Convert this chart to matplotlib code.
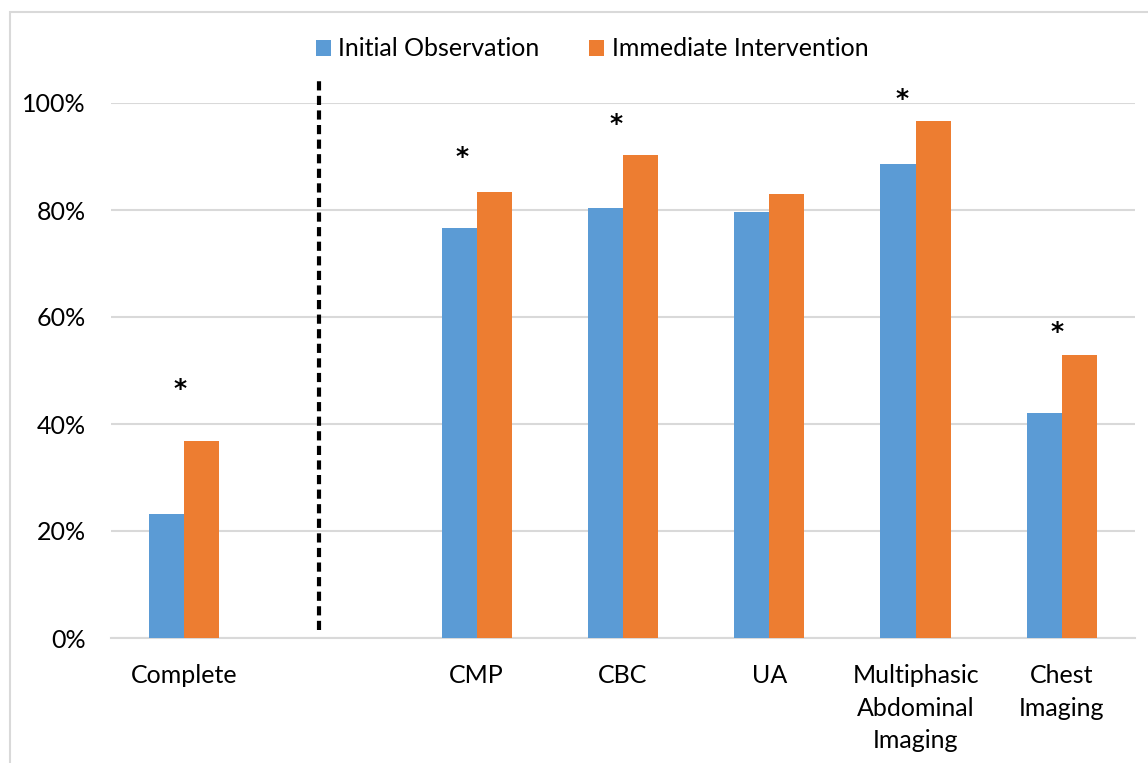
import matplotlib.pyplot as plt
from matplotlib.patches import Rectangle
from matplotlib.ticker import PercentFormatter

plt.rcParams['font.family'] = ['Lato', 'DejaVu Sans']

# data
categories = ['Complete', '', 'CMP', 'CBC', 'UA', 'Multiphasic\nAbdominal\nImaging', 'Chest\nImaging']
initial_obs = [0.232, None, 0.766, 0.804, 0.796, 0.886, 0.421]
immediate_int = [0.368, None, 0.834, 0.903, 0.830, 0.966, 0.529]
significant = [True, False, True, True, False, True, True]

# asterisk placement (x offset from group centre, height above orange bar)
star_dx = [-0.03, 0, -0.10, -0.05, 0, -0.09, -0.03]
star_dy = [0.097, 0, 0.065, 0.058, 0, 0.041, 0.043]

BLUE = '#5B9BD5'
ORANGE = '#ED7D31'
W = 0.24

fig = plt.figure(figsize=(11.48, 7.63), dpi=100)
W_PX, H_PX = 1148, 763
ax = fig.add_axes([111 / W_PX, 1 - 638 / H_PX, (1135 - 111) / W_PX, (638 - 103) / H_PX])

# outer chart frame
fig.patches.append(Rectangle((10 / W_PX, -0.05), 1.1, 1 - 12 / H_PX + 0.05,
                             transform=fig.transFigure, fill=False,
                             edgecolor='#D9D9D9', linewidth=1.5))

xs = [i for i, v in enumerate(initial_obs) if v is not None]
ax.bar([x - W / 2 for x in xs], [initial_obs[x] for x in xs], W, color=BLUE,
       label='Initial Observation', zorder=3)
ax.bar([x + W / 2 for x in xs], [immediate_int[x] for x in xs], W, color=ORANGE,
       label='Immediate Intervention', zorder=3)

for i, sig in enumerate(significant):
    if sig:
        ax.text(i + star_dx[i], immediate_int[i] + star_dy[i], '*', ha='center',
                va='center', fontsize=18, color='black', family='DejaVu Sans',
                fontweight='bold')

# separator between overall and per-test results
ax.plot([0.92, 0.92], [0.015, 1.047], color='black', linestyle=(0, (2.2, 1.3)),
        linewidth=3, clip_on=False, zorder=4)

ax.set_xlim(-0.5, 6.5)
ax.set_ylim(0, 1)
ax.set_yticks([0, 0.2, 0.4, 0.6, 0.8, 1.0])
ax.yaxis.set_major_formatter(PercentFormatter(1.0, decimals=0))
ax.set_xticks(range(len(categories)))
ax.set_xticklabels(categories, linespacing=1.48, va='top')
ax.tick_params(axis='both', length=0, labelsize=18, colors='black')
ax.tick_params(axis='x', pad=19)
ax.tick_params(axis='y', pad=18)
ax.grid(axis='y', color='#D9D9D9', linewidth=1.5, zorder=0)
for s in ['top', 'right', 'left']:
    ax.spines[s].set_visible(False)
ax.spines['bottom'].set_color('#D9D9D9')
ax.spines['bottom'].set_linewidth(1.5)

fig.legend(loc='center', bbox_to_anchor=(592 / W_PX, 1 - 49 / H_PX), ncol=2,
           frameon=False, fontsize=18, handlelength=0.6, handleheight=0.6,
           handletextpad=0.3, columnspacing=2.0)

plt.savefig('out.png', dpi=100)
